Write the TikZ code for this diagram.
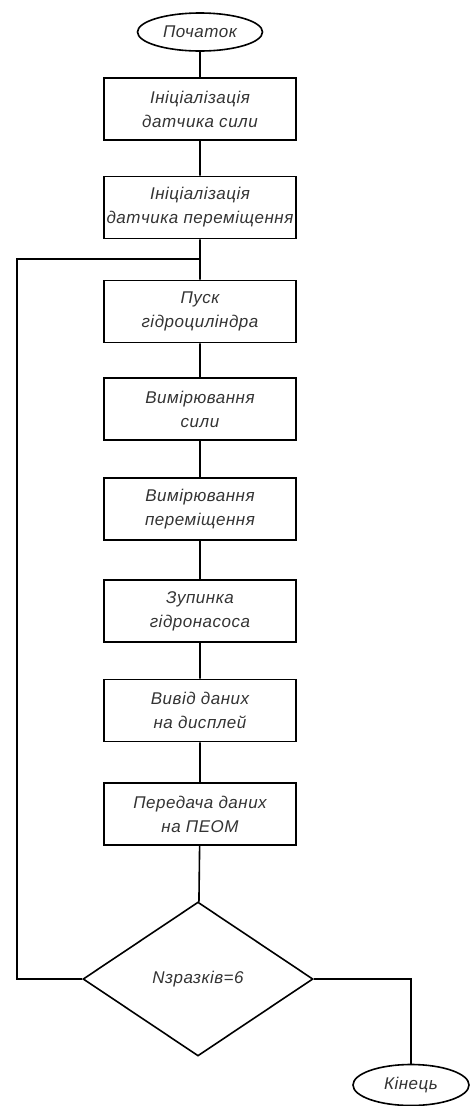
\documentclass[tikz,border=0pt]{standalone}
\usepackage{fontspec}
\setmainfont{Liberation Sans}[LetterSpace=3]
\usetikzlibrary{shapes.geometric}

\tikzset{
  blok/.style={draw,line width=1.6pt,minimum width=192pt,minimum height=62pt,
    align=center,inner sep=0pt,font=\itshape\fontsize{17}{24}\selectfont,text=black!80},
  termin/.style={draw,ellipse,line width=1.6pt,inner sep=0pt,
    font=\itshape\fontsize{17}{24}\selectfont,text=black!80},
  umova/.style={draw,diamond,line width=1.6pt,inner sep=0pt,minimum width=230pt,
    minimum height=154pt,font=\itshape\fontsize{17}{24}\selectfont,text=black!80},
  zv/.style={line width=1.6pt}
}

\begin{document}
\begin{tikzpicture}[x=1pt,y=-1pt]
  \path[use as bounding box] (0,0) rectangle (470,1106);
  \node[termin,minimum width=125pt,minimum height=38pt] (start) at (200,32) {Початок};
  \node[blok] (b1) at (200,109) {Ініціалізація\\датчика сили};
  \node[blok] (b2) at (200,207.5) {Ініціалізація\\датчика переміщення};
  \node[blok] (b3) at (200,311.5) {Пуск\\гідроциліндра};
  \node[blok] (b4) at (200,409) {Вимірювання\\сили};
  \node[blok] (b5) at (200,509) {Вимірювання\\переміщення};
  \node[blok] (b6) at (200,611) {Зупинка\\гідронасоса};
  \node[blok] (b7) at (200,710.5) {Вивід даних\\на дисплей};
  \node[blok] (b8) at (200,814) {Передача даних\\на ПЕОМ};
  \node[umova] (dia) at (198,979) {Nзразків=6};
  \node[termin,minimum width=116pt,minimum height=41pt] (kin) at (411,1085) {Кінець};
  \coordinate (lp) at (17,259);

  \draw[zv] (start) -- (b1) -- (b2) -- (b3) -- (b4) -- (b5) -- (b6) -- (b7) -- (b8) -- (dia);
  \draw[zv] (dia.west) -| (lp) -- (lp -| b3.north);
  \draw[zv] (dia.east) -| (kin.north);
\end{tikzpicture}
\end{document}
